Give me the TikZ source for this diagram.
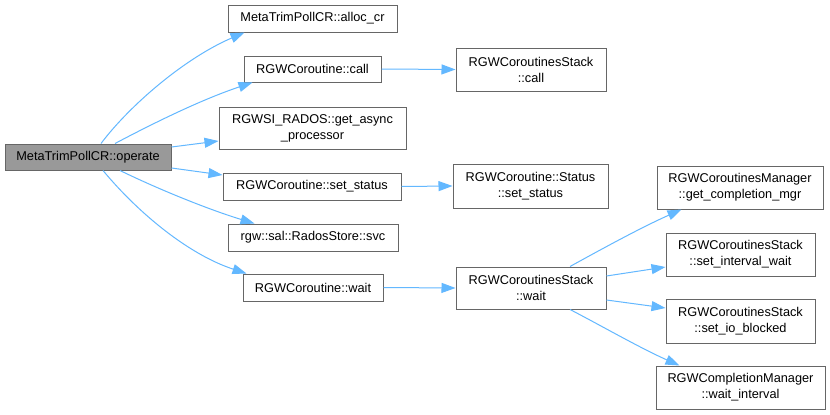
\documentclass[tikz,border=0pt]{standalone}
\usepackage{fontspec}
\setmainfont{Liberation Sans}
\usetikzlibrary{arrows.meta}
\definecolor{edgeblue}{HTML}{63B8FF}
\definecolor{boxgray}{HTML}{666666}
\definecolor{rootfill}{HTML}{999999}
\tikzset{
  fn/.style={draw=boxgray, line width=1pt, fill=white, inner sep=0pt, align=center,
    font=\fontsize{12.75}{16}\selectfont},
  rootfn/.style={fn, fill=rootfill},
  call/.style={draw=edgeblue, line width=1pt, -{Triangle[length=14pt,width=10pt]}}
}
\begin{document}
\begin{tikzpicture}[x=1pt,y=-1pt]
\useasboundingbox[fill=white] (0,0) rectangle (830,415);
\node[rootfn, minimum width=166pt, minimum height=26pt] (op) at (88,157) {MetaTrimPollCR::operate};
\node[fn, minimum width=169pt, minimum height=27pt] (al) at (312.5,18.5) {MetaTrimPollCR::alloc\_cr};
\node[fn, minimum width=137pt, minimum height=26pt] (cl) at (312.5,69) {RGWCoroutine::call};
\node[fn, minimum width=187pt, minimum height=42pt] (ra) at (312.5,128) {RGWSI\_RADOS::get\_async\\\_processor};
\node[fn, minimum width=178pt, minimum height=27pt] (ss) at (312,186.5) {RGWCoroutine::set\_status};
\node[fn, minimum width=170pt, minimum height=27pt] (sv) at (313,237.5) {rgw::sal::RadosStore::svc};
\node[fn, minimum width=140pt, minimum height=27pt] (wt) at (313,287.5) {RGWCoroutine::wait};
\node[fn, minimum width=150pt, minimum height=43pt] (scl) at (531,69.5) {RGWCoroutinesStack\\::call};
\node[fn, minimum width=155pt, minimum height=44pt] (sst) at (530.5,186) {RGWCoroutine::Status\\::set\_status};
\node[fn, minimum width=166pt, minimum height=43pt] (gcm) at (740,187.5) {RGWCoroutinesManager\\::get\_completion\_mgr};
\node[fn, minimum width=150pt, minimum height=42pt] (swt) at (531,288) {RGWCoroutinesStack\\::wait};
\node[fn, minimum width=149pt, minimum height=43pt] (siw) at (740.5,254.5) {RGWCoroutinesStack\\::set\_interval\_wait};
\node[fn, minimum width=149pt, minimum height=44pt] (sib) at (740.5,321) {RGWCoroutinesStack\\::set\_io\_blocked};
\node[fn, minimum width=169pt, minimum height=43pt] (wi) at (740.5,387.5) {RGWCompletionManager\\::wait\_interval};

\draw[call] ([xshift=13pt]op.north) .. controls (130,105) and (185,58) .. ([xshift=17pt]al.south west);
\draw[call] ([xshift=27pt]op.north) .. controls (150,125) and (200,100) .. ([xshift=9pt]cl.south west);
\draw[call] ([yshift=10pt]op.east) -- ([yshift=-13pt]ra.west);
\draw[call] ([yshift=-11pt]op.east) -- ([yshift=11.5pt]ss.west);
\draw[call] ([xshift=32pt]op.south) .. controls (160,190) and (210,210) .. ([xshift=27pt]sv.north west);
\draw[call] ([xshift=15pt]op.south) .. controls (140,215) and (190,255) .. ([xshift=4pt]wt.north west);
\draw[call] (cl.east) -- (scl.west);
\draw[call] (ss.east) -- (sst.west);
\draw[call] (wt.east) -- (swt.west);
\draw[call] ([xshift=39pt]swt.north) .. controls (600,250) and (640,228) .. ([xshift=25pt]gcm.south west);
\draw[call] ([yshift=12pt]swt.east) -- ([yshift=-12.5pt]siw.west);
\draw[call] ([yshift=-12pt]swt.east) -- ([yshift=13pt]sib.west);
\draw[call] ([xshift=39pt]swt.south) .. controls (600,325) and (640,348) .. ([xshift=24pt]wi.north west);
\end{tikzpicture}
\end{document}
